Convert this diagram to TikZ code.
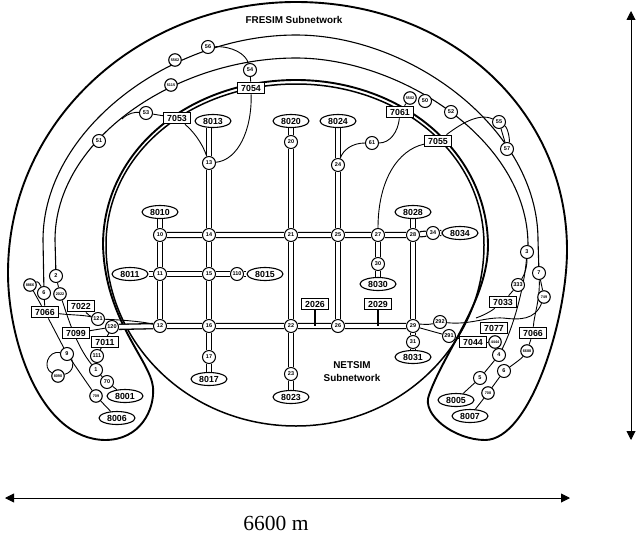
\documentclass[tikz,border=0pt]{standalone}
\usepackage{fontspec}
\setmainfont{Liberation Sans}
\newfontfamily\serifface{Liberation Serif}
\usetikzlibrary{shapes.geometric,backgrounds,arrows.meta}
\tikzset{
  jn/.style={circle,draw=black,line width=1pt,fill=white,minimum size=13pt,inner sep=0pt,font=\bfseries\fontsize{5.5}{5.5}\selectfont},
  tj/.style={circle,draw=black,line width=1.1pt,fill=white,minimum size=12.5pt,inner sep=0pt,font=\bfseries\fontsize{3.8}{4}\selectfont},
  zone/.style={ellipse,draw=black,line width=1.1pt,fill=white,minimum width=36pt,minimum height=13pt,inner sep=0pt,font=\bfseries\fontsize{8.8}{9}\selectfont},
  det/.style={rectangle,draw=black,line width=1.2pt,fill=white,minimum width=27pt,minimum height=11.5pt,inner sep=0pt,font=\bfseries\fontsize{8.8}{9}\selectfont},
  road/.style={draw=black,line width=1.3pt,double=white,double distance=3.8pt},
  link/.style={draw=black,line width=.9pt},
  ringline/.style={draw=black,line width=1.5pt},
  rim/.style={draw=black,line width=1.9pt},
  dimline/.style={draw=black,line width=.9pt,{Triangle[length=9pt,width=9pt]}-{Triangle[length=9pt,width=9pt]}},
  captxt/.style={font=\bfseries\fontsize{9.9}{11}\selectfont,align=center,inner sep=0pt}
}
\begin{document}
\begin{tikzpicture}[x=1pt,y=-1pt]
\useasboundingbox (0,0) rectangle (636,535);
% junctions
\foreach \n/\x/\y/\t in {10/160/235/10,14/209/235/14,21/291/235/21,25/338/235/25,27/378/235/27,28/413/235/28,34/433/233/34,
  11/160/274/11,15/209/274/15,110/237/274/110,12/160/326/12,16/209/326/16,22/291/326/22,26/338/326/26,29/413/326/29,
  17/209/357/17,23/291/374/23,13/209/163/13,20/291/142/20,24/338/165/24,61b/372/143/61,30/378/264/30,31/413/342/31,
  2/56/276/2,6/44/293/6,9/67/354/9,1/96/370/1,70/107/382/70,121/98/319/121,120/112/327/120,111/97/356/111,
  3/527/252/3,7/539/273/7,4/499/355/4,6r/504/371/6,5/480/378/5,291/449/336/291,292/440/322/292,333/518/285/333,
  56/208/47/56,54/250/70/54,53/146/113/53,51/99/141/51,50/425/101/50,52/451/112/52,55/499/122/55,57/507/149/57}
  {\node[jn] (n\n) at (\x,\y) {\t};}
% tiny-label junctions
\foreach \n/\x/\y/\t in {a/30/285/8866,b/60/294/2022,c/58/376/8090,d/96/396/709,
  e/175/60/5562,f/171/85/5115,g/410/98/5502,h/544/297/749,i/495/342/4444,j/527/351/6688,k/488/393/708}
  {\node[tj] (t\n) at (\x,\y) {\t};}
% zones
\foreach \n/\x/\y in {8010/160/212,8013/213/121,8020/291/121,8024/338/121,8015/265/274,8011/130/274,8017/209/379,
  8023/291/397,8028/413/212,8030/378/284,8031/413/357,8034/460/233,8001/125/396,8006/117/418,8005/456/400,8007/470/416}
  {\node[zone] (z\n) at (\x,\y) {\n};}
% detectors
\foreach \n/\x/\y/\t in {54/251/88/7054,53/177/118/7053,61/400/112/7061,55/438/141/7055,
  26/315/304/2026,29/378/304/2029,22/81/306/7022,66/45/312/7066,99/76/333/7099,11/105/342/7011,
  33/503/302/7033,77/494/328/7077,44/473/342/7044,66r/533/333/7066}
  {\node[det] (d\n) at (\x,\y) {\t};}
% captions
\node[captxt] (title) at (294,20) {FRESIM Subnetwork};
\node[captxt] (net) at (352,372) {NETSIM\\[2pt]Subnetwork};
\node[inner sep=0pt,font=\serifface\fontsize{21.5}{22}\selectfont] (len) at (276,523) {6600 m};
\coordinate (vt) at (631,11);
\coordinate (vb) at (631,440);
\coordinate (hl) at (5,498);
\coordinate (hr) at (570,498);
\draw[dimline] (vt) -- (vb);
\draw[dimline] (hl) -- (hr);
\begin{pgfonlayer}{background}
% network boundary
\draw[rim,line join=round] (296,2) .. controls (450,2) and (567,110) .. (567,250)
  .. controls (567,320) and (530,440) .. (485,440)
  .. controls (455,440) and (421,415) .. (429,395)
  .. controls (445,350) and (488,300) .. (488,245)
  .. controls (487,150) and (400,80) .. (296,80)
  .. controls (190,80) and (103,150) .. (103,245)
  .. controls (105,320) and (150,360) .. (153,387)
  .. controls (155,410) and (140,440) .. (105,440)
  .. controls (40,439) and (8,340) .. (8,273)
  .. controls (8,120) and (140,2) .. cycle;
\draw[ringline] (296,84) .. controls (398,84) and (484,152) .. (484,245)
  .. controls (484,345) and (400,426) .. (296,426)
  .. controls (190,426) and (106,345) .. (106,245)
  .. controls (106,152) and (192,84) .. cycle;
% freeway lines
\draw[link,line width=1.1pt] (n6) -- (43,240) .. controls (43,130) and (170,35) .. (296,35)
  .. controls (412,35) and (538,130) .. (538,240) -- (n7);
\draw[link,line width=1.1pt] (n2) -- (55,240) .. controls (55,140) and (175,58) .. (296,58)
  .. controls (400,58) and (528,140) .. (528,245) -- (n3);
% roads
\draw[road] (z8010)--(n10)--(n11)--(n12);
\draw[road] (z8013.south -| n13)--(n13)--(n14)--(n15)--(n16)--(n17)--(z8017);
\draw[road] (z8020)--(n20)--(n21)--(n22)--(n23)--(z8023);
\draw[road] (z8024)--(n24)--(n25)--(n26);
\draw[road] (n27)--(n30)--(z8030);
\draw[road] (z8028)--(n28)--(n29)--(n31)--(z8031);
\draw[road] (n10)--(n14)--(n21)--(n25)--(n27)--(n28)--(n34)--(z8034);
\draw[road] (z8011)--(n11)--(n15)--(n110)--(z8015);
\draw[road] (n120)--(n12)--(n16)--(n22)--(n26)--(n29);
% detector stems
\draw[link,line width=1.2pt] (d26)--(d26 |- n22);
\draw[link,line width=1.2pt] (d29)--(d29 |- n22);
% top connections
\draw[link] (n56) .. controls (232,46) and (246,54) .. (n54);
\draw[link] (n54)--(d54);
\draw[link] (d54) .. controls (252,130) and (238,160) .. (n13);
\draw[link] (d53) .. controls (192,130) and (202,142) .. (n13);
\draw[link] (d53)--(n53);
\draw[link] (n53) .. controls (135,112) and (128,113) .. (122,119);
\draw[link] (d61) .. controls (398,132) and (390,143) .. (n61b);
\draw[link] (n61b) .. controls (352,143) and (343,150) .. (n24);
\draw[link] (d61)--(tg);
\draw[link] (d55) .. controls (398,150) and (378,180) .. (n27);
\draw[link] (d55) .. controls (458,126) and (478,112) .. (n55);
\draw[link] (n55) .. controls (508,128) and (510,140) .. (n57);
\draw[link] (n55)--(n57);
% left lobe connections
\draw[link] (ta) .. controls (38,281) and (40,284) .. (n6);
\draw[link] (ta)--(d66);
\draw[link] (n6)--(d66);
\draw[link] (n2)--(tb);
\draw[link] (tb) .. controls (68,318) and (76,345) .. (n1);
\draw[link] (d66) .. controls (70,315) and (85,315) .. (n121);
\draw[link] (d22) .. controls (88,315) and (90,316) .. (n121);
\draw[link] (n121) .. controls (125,320) and (145,322) .. (n12);
\draw[link] (d99)--(n120);
\draw[link] (n111)--(n120);
\draw[link] (n111)--(n1);
\draw[link] (d66)--(n9);
\draw[link] (n9)--(td);
\draw[link] (td)--(z8006);
\draw[link] (n9) .. controls (48,350) and (42,368) .. (tc);
\draw[link] (n9) .. controls (74,362) and (74,372) .. (tc);
\draw[link] (n1)--(n70);
\draw[link] (n70)--(z8001);
% right lobe connections
\draw[link] (n3) .. controls (524,290) and (512,330) .. (n4);
\draw[link] (n3) .. controls (527,265) and (526,272) .. (n333);
\draw[link] (n333)--(d33);
\draw[link] (d33) .. controls (490,312) and (482,316) .. (476,318);
\draw[link] (n7)--(th);
\draw[link] (n292) .. controls (470,325) and (485,317) .. (503,318) .. controls (520,320) and (535,320) .. (th);
\draw[link] (n7) .. controls (540,300) and (534,315) .. (d66r);
\draw[link] (d66r)--(tj);
\draw[link] (tj) .. controls (522,358) and (514,364) .. (n6r);
\draw[link] (n6r)--(tk);
\draw[link] (tk)--(z8007);
\draw[link] (ti)--(n4);
\draw[link] (d44)--(ti);
\draw[link] (n4)--(n5);
\draw[link] (n5)--(z8005);
\draw[link] (n291)--(d44);
\draw[link] (n29)--(n291);
\draw[link] (n29) .. controls (420,324) and (428,325) .. (n292);
\end{pgfonlayer}
\end{tikzpicture}
\end{document}
